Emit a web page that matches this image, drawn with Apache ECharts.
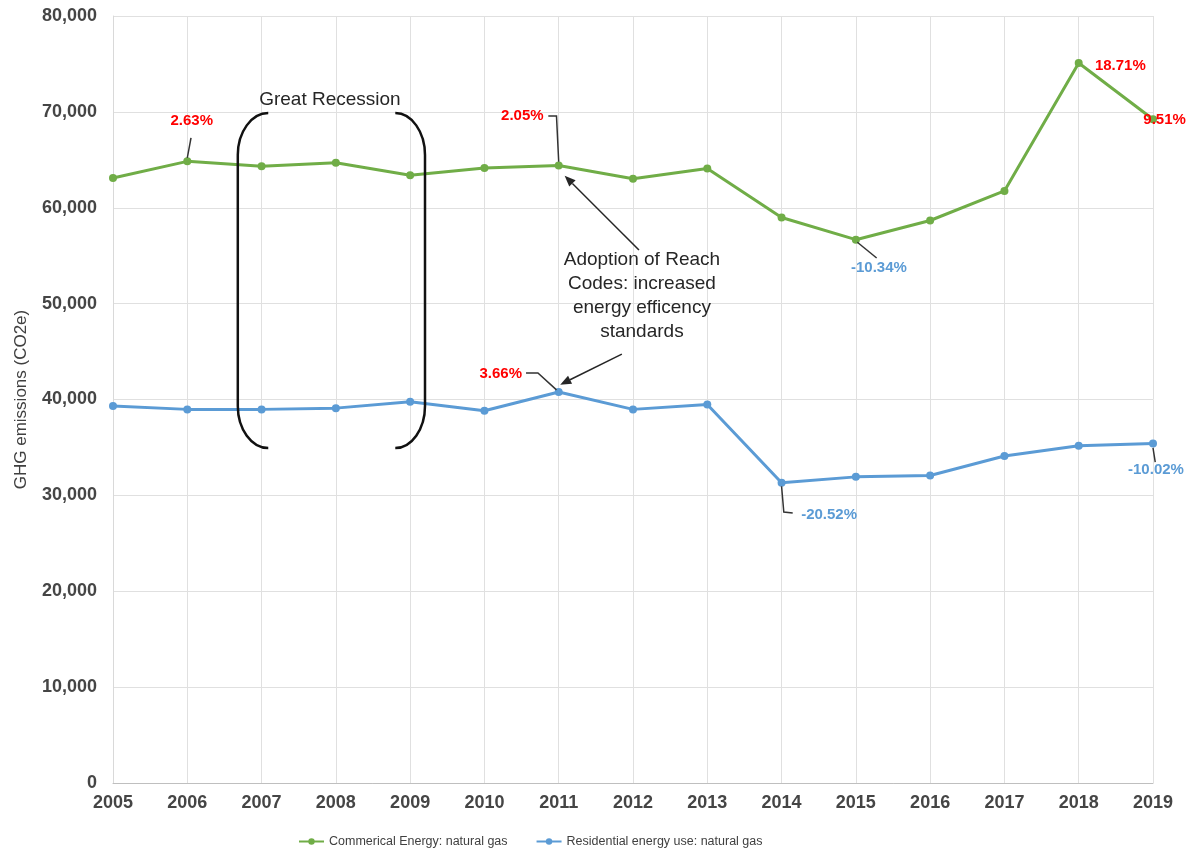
<!DOCTYPE html>
<html>
<head>
<meta charset="utf-8">
<script src="https://cdn.jsdelivr.net/npm/echarts@6/dist/echarts.min.js"></script>
<style>
html,body{margin:0;padding:0;background:#fff;}
#chart{width:1188px;height:860px;}
</style>
</head>
<body>
<div id="chart"></div>
<script>
// ---- data ----
const years = [2005,2006,2007,2008,2009,2010,2011,2012,2013,2014,2015,2016,2017,2018,2019];
const commercial = [63100,64840,64320,64700,63380,64150,64400,63020,64100,58980,56670,58670,61750,75100,69230];
const residential = [39310,38970,38970,39100,39760,38830,40790,38970,39480,31310,31930,32070,34100,35170,35410];
const seriesNames = ['Commerical Energy: natural gas','Residential energy use: natural gas'];
const yTicks = [0,10000,20000,30000,40000,50000,60000,70000,80000];
const yAxisTitle = 'GHG emissions (CO2e)';

// ---- annotations (in data coordinates) ----
const RED = '#FF0000', BLUE = '#5B9BD5';
const pctLabels = [
  {text:'2.63%', at:[2006.06,69050], color:RED, align:'center', leader:[[2006.05,67300],[2006.0,65200]]},
  {text:'2.05%', at:[2010.51,69570], color:RED, align:'center', leader:[[2010.86,69570],[2010.97,69570],[2011.0,64800]]},
  {text:'18.71%', at:[2018.56,74780], color:RED, align:'center', leader:null},
  {text:'9.51%', at:[2018.87,69150], color:RED, align:'left', leader:null},
  {text:'-10.34%', at:[2015.31,53710], color:BLUE, align:'center', leader:[[2015.02,56400],[2015.28,54760]]},
  {text:'3.66%', at:[2010.22,42660], color:RED, align:'center', leader:[[2010.56,42760],[2010.72,42760],[2010.97,41000]]},
  {text:'-20.52%', at:[2014.64,27950], color:BLUE, align:'center', leader:[[2014.0,30950],[2014.03,28260],[2014.15,28160]]},
  {text:'-10.02%', at:[2019.04,32650], color:BLUE, align:'center', leader:[[2019.0,34950],[2019.03,33480]]}
];
const arrows = [
  {from:[2012.08,55590], to:[2011.08,63350]},
  {from:[2011.85,44740], to:[2011.02,41550]}
];
const noteReach = {text:'Adoption of Reach\nCodes: increased\nenergy efficency\nstandards', at:[2012.12,50790]};
const noteRecession = {text:'Great Recession', at:[2007.92,71230]};
const brackets = [
  {end:2007.09, side:2006.68, top:69880, bottom:34940},
  {end:2008.80, side:2009.20, top:69880, bottom:34940}
];

const chart = echarts.init(document.getElementById('chart'), null, {renderer:'canvas'});
const axisFont = 'Liberation Sans';
const option = {
  animation:false,
  backgroundColor:'#fff',
  grid:{left:113, right:35, top:16, bottom:77, containLabel:false},
  legend:{
    left:293, top:830, itemWidth:25, itemHeight:8, itemGap:28,
    textStyle:{fontFamily:'Liberation Sans', fontSize:12.5, color:'#404040'},
    data:seriesNames
  },
  xAxis:{
    type:'value', min:2005, max:2019, interval:1,
    axisLine:{show:true, lineStyle:{color:'#bfbfbf', width:1}},
    axisTick:{show:false},
    splitLine:{show:true, lineStyle:{color:'#e0e0e0', width:1}},
    axisLabel:{formatter:v=>String(v), fontFamily:axisFont, fontWeight:'bold', fontSize:18, color:'#454545', margin:11}
  },
  yAxis:{
    type:'value', min:yTicks[0], max:yTicks[yTicks.length-1], interval:10000,
    name:yAxisTitle, nameLocation:'middle', nameGap:83, nameRotate:90,
    nameTextStyle:{fontFamily:'Liberation Sans', fontSize:17, color:'#404040'},
    axisLine:{show:true, lineStyle:{color:'#d9d9d9', width:1}},
    axisTick:{show:false},
    splitLine:{show:true, lineStyle:{color:'#e0e0e0', width:1}},
    axisLabel:{fontFamily:axisFont, fontWeight:'bold', fontSize:18, color:'#454545', margin:16,
      formatter:v=>v.toLocaleString('en-US')}
  },
  series:[
    {name:seriesNames[0], type:'line', data:years.map((y,i)=>[y,commercial[i]]),
     symbol:'circle', symbolSize:8, lineStyle:{color:'#70AD47', width:3}, itemStyle:{color:'#70AD47'}, z:3},
    {name:seriesNames[1], type:'line', data:years.map((y,i)=>[y,residential[i]]),
     symbol:'circle', symbolSize:8, lineStyle:{color:'#5B9BD5', width:3}, itemStyle:{color:'#5B9BD5'}, z:3}
  ]
};
chart.setOption(option);

const px = p => chart.convertToPixel({gridIndex:0}, p);
const g = [];
// leaders & labels
pctLabels.forEach(l=>{
  if(l.leader){
    g.push({type:'polyline', shape:{points:l.leader.map(px)}, style:{stroke:'#333', lineWidth:1.5, fill:null}, z:10});
  }
  const p = px(l.at);
  g.push({type:'text', x:p[0], y:p[1], style:{text:l.text, fill:l.color, font:'bold 15px "Liberation Sans", Arial, sans-serif', align:l.align, verticalAlign:'middle'}, z:11});
});
// arrows
arrows.forEach(a=>{
  const f = px(a.from), t = px(a.to);
  const dx=t[0]-f[0], dy=t[1]-f[1], L=Math.hypot(dx,dy), ux=dx/L, uy=dy/L;
  const hl=11, hw=4.5;
  const bx=t[0]-ux*hl, by=t[1]-uy*hl;
  g.push({type:'line', shape:{x1:f[0],y1:f[1],x2:bx,y2:by}, style:{stroke:'#262626', lineWidth:1.5}, z:10});
  g.push({type:'polygon', shape:{points:[t,[bx-uy*hw,by+ux*hw],[bx+uy*hw,by-ux*hw]]}, style:{fill:'#262626'}, z:10});
});
// notes
[noteReach, noteRecession].forEach(n=>{
  const p = px(n.at);
  g.push({type:'text', x:p[0], y:p[1], style:{text:n.text, fill:'#262626', font:'19px "Liberation Sans", Arial, sans-serif', align:'center', verticalAlign:'middle', lineHeight:24}, z:11});
});
// brackets
brackets.forEach(b=>{
  const t1 = px([b.end,b.top]), s1 = px([b.side,b.top]);
  const t2 = px([b.end,b.bottom]);
  const xe=t1[0], xs=s1[0], yt=t1[1], yb=t2[1], r=42, k=0.55;
  const w = xe - xs;
  const st = {stroke:'#111', lineWidth:2.5, fill:null};
  g.push({type:'bezierCurve', shape:{x1:xe, y1:yt, cpx1:xe-w*k, cpy1:yt, cpx2:xs, cpy2:yt+r*(1-k), x2:xs, y2:yt+r}, style:st, z:10});
  g.push({type:'line', shape:{x1:xs, y1:yt+r, x2:xs, y2:yb-r}, style:st, z:10});
  g.push({type:'bezierCurve', shape:{x1:xs, y1:yb-r, cpx1:xs, cpy1:yb-r*(1-k), cpx2:xe-w*k, cpy2:yb, x2:xe, y2:yb}, style:st, z:10});
});
chart.setOption({graphic:{elements:g}});
</script>
</body>
</html>
